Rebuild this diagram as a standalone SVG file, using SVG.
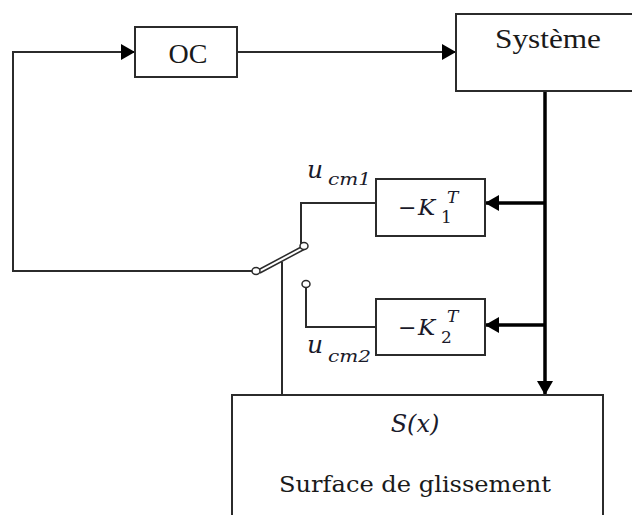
<svg xmlns="http://www.w3.org/2000/svg" width="632" height="515" viewBox="0 0 632 515">
<style>
.box{fill:#fff;stroke:#2b2b2b;stroke-width:2}
.wire{fill:none;stroke:#2b2b2b;stroke-width:2}
.bus{fill:none;stroke:#000;stroke-width:3.5}
.pin{fill:#fff;stroke:#2b2b2b;stroke-width:1.5}
.t{font-family:"Liberation Serif",serif;fill:#1a1a1a;font-size:28px;text-anchor:middle}
.s{font-family:"DejaVu Serif",serif;fill:#1a1a1a;font-size:23px;text-anchor:middle}
.m{font-family:"DejaVu Serif",serif;font-style:italic;fill:#1a1a2a}
.n{font-family:"DejaVu Serif",serif;fill:#1a1a2a}
</style>
<defs>
<marker id="a" markerUnits="userSpaceOnUse" markerWidth="14" markerHeight="16" refX="14" refY="8" orient="auto"><path d="M0,0L14,8L0,16Z" fill="#000"/></marker>
</defs>
<rect width="632" height="515" fill="#fff"/>
<g id="connectors">
<path class="wire" d="M256,271H13V52H135" marker-end="url(#a)"/>
<path class="wire" d="M237,52H456" marker-end="url(#a)"/>
<path class="wire" d="M376,203H301V246"/>
<path class="wire" d="M306,285V327H376"/>
<path class="wire" d="M282,262V395"/>
<path class="bus" d="M545,92V395" marker-end="url(#a)"/>
<path class="bus" d="M545,203H485" marker-end="url(#a)"/>
<path class="bus" d="M545,325H485" marker-end="url(#a)"/>
<path d="M258,270L303,246M260,273L305,249" fill="none" stroke="#2b2b2b" stroke-width="1.5"/>
</g>
<g id="pins">
<ellipse class="pin" cx="256" cy="271" rx="4" ry="3.5"/>
<ellipse class="pin" cx="304" cy="246" rx="4" ry="3.5"/>
<ellipse class="pin" cx="306" cy="284" rx="4" ry="3.5"/>
</g>
<g id="oc"><rect class="box" x="135" y="27" width="102" height="50"/><text class="t" x="188" y="63">OC</text></g>
<g id="systeme"><path class="box" d="M640,14H456V91H640"/><text class="t" x="548" y="48" textLength="106" lengthAdjust="spacingAndGlyphs">Système</text></g>
<g id="k1"><rect class="box" x="376" y="179" width="109" height="57"/>
<text class="n" x="398" y="215" font-size="22">−</text><text class="m" x="418" y="215" font-size="23">K</text><text class="m" x="447" y="203" font-size="17">T</text><text class="n" x="441" y="223" font-size="17">1</text></g>
<g id="k2"><rect class="box" x="376" y="299" width="109" height="56"/>
<text class="n" x="398" y="335" font-size="22">−</text><text class="m" x="418" y="335" font-size="23">K</text><text class="m" x="447" y="322" font-size="17">T</text><text class="n" x="441" y="343" font-size="17">2</text></g>
<g id="u1"><text class="m" x="307" y="178" font-size="25">u</text><text class="m" x="328" y="185" font-size="17" textLength="43" lengthAdjust="spacingAndGlyphs">cm1</text></g>
<g id="u2"><text class="m" x="307" y="353" font-size="25">u</text><text class="m" x="328" y="362" font-size="17" textLength="43" lengthAdjust="spacingAndGlyphs">cm2</text></g>
<g id="surface"><path class="box" d="M232,520V395H603V520"/>
<text class="m" x="415" y="432" font-size="24" text-anchor="middle">S(x)</text>
<text class="s" x="415" y="492" textLength="272" lengthAdjust="spacingAndGlyphs">Surface de glissement</text></g>
</svg>
